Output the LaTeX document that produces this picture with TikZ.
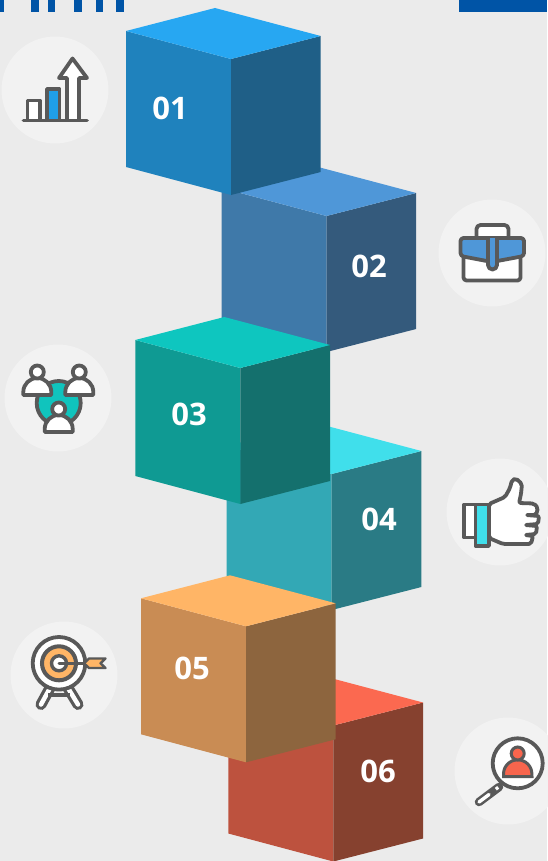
\documentclass[tikz,border=0pt]{standalone}
\usepackage{fontspec}
\setmainfont{Open Sans}
\definecolor{bgc}{HTML}{EBEBEB}
\definecolor{circ}{HTML}{F2F2F2}
\definecolor{ink}{HTML}{595959}
\definecolor{navy}{HTML}{0054A6}
\definecolor{icoblue}{HTML}{1F9FE8}
\definecolor{icobrief}{HTML}{4F97D8}
\definecolor{icoteal}{HTML}{10C4BD}
\definecolor{icocyan}{HTML}{40DFEB}
\definecolor{icoorange}{HTML}{FFB566}
\definecolor{icored}{HTML}{F8654D}
\definecolor{aT}{HTML}{27A7F2}\definecolor{aL}{HTML}{1F82BD}\definecolor{aR}{HTML}{1F5F87}
\definecolor{bT}{HTML}{4F97D8}\definecolor{bL}{HTML}{3F79A9}\definecolor{bR}{HTML}{345A7C}
\definecolor{cT}{HTML}{0EC6BF}\definecolor{cL}{HTML}{0F9A93}\definecolor{cR}{HTML}{14706D}
\definecolor{dT}{HTML}{40DFEB}\definecolor{dL}{HTML}{33A8B5}\definecolor{dR}{HTML}{2A7B85}
\definecolor{eT}{HTML}{FFB566}\definecolor{eL}{HTML}{C98C54}\definecolor{eR}{HTML}{8D653E}
\definecolor{fT}{HTML}{FB6950}\definecolor{fL}{HTML}{BD523E}\definecolor{fR}{HTML}{86412F}
\newcommand{\cubeshape}[3]{%
 \fill[#3L] (#1,#2) -- ++(105,28) -- ++(0,136) -- ++(-105,-28) -- cycle;
 \fill[#3R] (#1+105,#2+28) -- ++(89.7,-23) -- ++(0,136) -- ++(-89.7,23) -- cycle;
 \fill[#3T] (#1,#2) -- ++(89,-23) -- ++(105.7,28) -- ++(-89.7,23) -- cycle;
}
\tikzset{
 ico/.style={draw=ink,line width=3.8pt,line join=round,line cap=round},
 num/.style={text=white,font=\bfseries\fontsize{31}{31}\selectfont,inner sep=0pt},
 disc/.style={fill=circ,draw=none},
}
\begin{document}
\begin{tikzpicture}[x=1pt,y=-1pt]
\useasboundingbox (0,0) rectangle (547,861);
\fill[bgc] (0,0) rectangle (547,861);
% top bars
\foreach \a/\b in {0/4,31/39,48/55,74/82,96/103,116/124}{\fill[navy] (\a,0) rectangle (\b,12);}
\fill[navy] (459,0) rectangle (547,12);
% discs
\fill[disc] (55,90) circle (53.5);
\fill[disc] (492,253) circle (53.5);
\fill[disc] (58,398) circle (53.5);
\fill[disc] (500,512) circle (53.5);
\fill[disc] (64,675) circle (53.5);
\fill[disc] (508,771) circle (53.5);
% cubes
\cubeshape{228.3}{697.5}{f}
\cubeshape{226.7}{446}{d}
\cubeshape{221.5}{188}{b}
\cubeshape{141}{598.3}{e}
\cubeshape{135.3}{340}{c}
\cubeshape{126}{31}{a}
% labels
\node[num] (n1) at (170,108) {01};
\node[num] (n2) at (369,266) {02};
\node[num] (n3) at (189,414) {03};
\node[num] (n4) at (379,519) {04};
\node[num] (n5) at (192,668) {05};
\node[num] (n6) at (378,771) {06};
% icon 1: chart
\filldraw[ico,fill=white] (27.5,120) -- (27.5,100.5) -- (40,100.5) -- (40,120);
\filldraw[ico,fill=icoblue] (47,120) -- (47,89) -- (59.5,89) -- (59.5,120);
\filldraw[ico,fill=white] (67,120) -- (67,78) -- (59,78) -- (72.5,58.5) -- (87,78) -- (79,78) -- (79,120);
\draw[ico] (23.5,120.5) -- (87,120.5);
% icon 2: briefcase
\draw[ico,fill=white,rounded corners=4pt] (476.5,240) -- (476.5,225) -- (508.5,225) -- (508.5,240);
\draw[ico,fill=white,rounded corners=3pt] (463.5,250) -- (463.5,280.5) -- (520.5,280.5) -- (520.5,250) -- cycle;
\draw[ico,fill=icobrief,rounded corners=3pt] (460.5,238) -- (524,238) -- (524,256) -- (492,262) -- (460.5,256) -- cycle;
\draw[ico,fill=icobrief] (488,238) -- (488,265) arc[start angle=180,end angle=0,radius=4.5] -- (497,238);
% icon 3: people
\fill[icoteal,draw=ink,line width=3.8pt] (58.7,403) circle (22);
\newcommand{\person}[2]{%
 \draw[ico,fill=white] (#1-14,#2+23) -- (#1-14,#2+20) arc[start angle=180,end angle=360,radius=14] -- (#1+14,#2+23) -- cycle;
 \draw[ico,fill=white] (#1,#2) circle (6.5);
}
\person{37.3}{372}
\person{79.3}{372}
\person{58.7}{409}
% icon 4: thumb
\draw[ico,fill=white] (475,504.5) -- (464,504.5) -- (464,537.5) -- (475,537.5);
\draw[ico,fill=white,rounded corners=2pt] (489,504) -- (505,497) -- (510,488) -- (512,480) -- (516,478.5) -- (522,484) -- (521,494) -- (519,503) -- (534,503.5) -- (538,508) -- (536,515) -- (526,515) -- (539,516) -- (538,524) -- (525,525) -- (537,526) -- (536,534) -- (525,535) -- (533,536) -- (531,544) -- (503,544) -- (489,538) -- cycle;
\draw[ico,fill=icocyan] (475.5,504.5) -- (489,504.5) -- (489,546) -- (475.5,546) -- cycle;
% icon 5: target
\draw[ink,line width=11pt,line cap=round] (50,688) -- (41,704.5);
\draw[ink,line width=11pt,line cap=round] (68,688) -- (78,704.5);
\draw[white,line width=4.5pt,line cap=round] (50,688) -- (41,704.5);
\draw[white,line width=4.5pt,line cap=round] (68,688) -- (78,704.5);
\draw[ink,line width=3.8pt] (48,695) -- (70,695);
\draw[ico,fill=white] (59,663.3) circle (26.3);
\draw[ink,line width=4pt,fill=icoorange] (59,663.3) circle (17);
\draw[ink,line width=3.4pt,fill=white] (59,663.3) circle (7.5);
\draw[ink,line width=3pt,line cap=round] (59,663.3) -- (90,663.3);
\draw[ink,line width=2.4pt,line join=round,fill=icoorange] (89,658.5) -- (105.5,658.5) -- (100.5,663.3) -- (105.5,668) -- (89,668) -- (84,663.3) -- cycle;
% icon 6: magnifier
\draw[ink,line width=8.5pt,line cap=round] (499,787) -- (479,802);
\draw[white,line width=3.4pt,line cap=round] (489,794.5) -- (479,802);
\draw[white,line width=3pt] (496,787) -- (498,789.5);
\draw[ico,fill=white] (517.7,763.3) circle (25);
\draw[ink,line width=3pt,fill=icored] (503.5,776.5) -- (503.5,774) arc[start angle=180,end angle=360,radius=14.2] -- (532,776.5) -- cycle;
\draw[ink,line width=3pt,fill=icored] (517.7,753.5) circle (6.5);
\end{tikzpicture}
\end{document}
